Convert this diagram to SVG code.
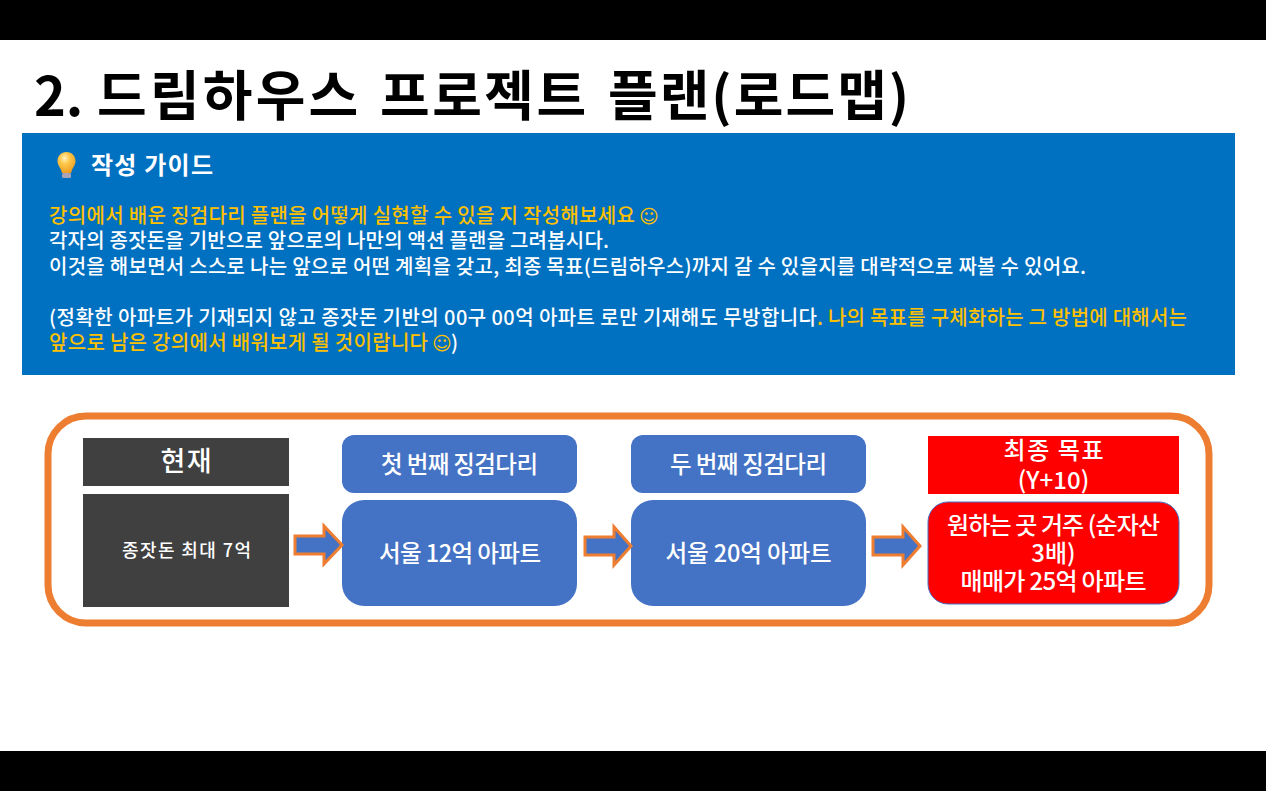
<svg xmlns="http://www.w3.org/2000/svg" width="1266" height="791" viewBox="0 0 1266 791">
<defs>
<radialGradient id="bulbFill" cx="0.4" cy="0.3" r="0.75"><stop offset="0" stop-color="#fff3c4"/><stop offset="0.35" stop-color="#fdc94c"/><stop offset="1" stop-color="#ee9a1d"/></radialGradient>
<style>
text{font-family:"Noto Sans CJK KR","Noto Sans",sans-serif;fill:#fff}
.g{font-size:20px;font-weight:500}
.y{fill:#ffc000}
.s{font-family:"DejaVu Sans",sans-serif;font-size:19px}
.m{text-anchor:middle;font-weight:500}
.arrow{fill:#4472c4;stroke:#ed7d31;stroke-width:3}
</style></defs>
<rect width="1266" height="791" fill="#fff"/>
<rect width="1266" height="40" fill="#000"/>
<rect y="751" width="1266" height="40" fill="#000"/>
<text y="116" font-size="54" font-weight="700" style="fill:#000"><tspan x="34">2.</tspan><tspan x="97" letter-spacing="3.2">드림하우스</tspan><tspan x="380" letter-spacing="2.5">프로젝트</tspan><tspan x="608" letter-spacing="2">플랜(로드맵)</tspan></text>
<g id="guide">
<rect x="22" y="133" width="1213" height="242" fill="#0070c0"/>
<g id="bulb"><path d="M66.500 152c-5.500 0-9 4-9 9 0 4 2.500 6 3.500 9l1 3h9l1-3c1-3 3.500-5 3.500-9 0-5-3.500-9-9-9z" fill="url(#bulbFill)"/><rect x="62" y="173" width="9" height="5" rx="1.500" fill="#a9a3b5"/></g>
<text x="91" y="174" font-size="24" font-weight="700" textLength="122">작성 가이드</text>
<text x="49" y="223" class="g y" textLength="586">강의에서 배운 징검다리 플랜을 어떻게 실현할 수 있을 지 작성해보세요</text>
<text x="639" y="223" class="s y">☺</text>
<text x="49" y="248" class="g" textLength="560">각자의 종잣돈을 기반으로 앞으로의 나만의 액션 플랜을 그려봅시다.</text>
<text x="49" y="274" class="g" textLength="1037">이것을 해보면서 스스로 나는 앞으로 어떤 계획을 갖고, 최종 목표(드림하우스)까지 갈 수 있을지를 대략적으로 짜볼 수 있어요.</text>
<text x="49" y="325" class="g" textLength="768">(정확한 아파트가 기재되지 않고 종잣돈 기반의 00구 00억 아파트 로만 기재해도 무방합니다</text>
<text x="817" y="325" class="g y" textLength="370">. 나의 목표를 구체화하는 그 방법에 대해서는</text>
<text x="49" y="350" class="g y" textLength="379">앞으로 남은 강의에서 배워보게 될 것이랍니다</text>
<text x="432" y="350" class="s y">☺</text>
<text x="451" y="350" class="g">)</text>
</g>
<rect id="frame" x="48" y="416" width="1161" height="207" rx="38" fill="#fff" stroke="#ed7d31" stroke-width="7"/>
<g id="now-head"><rect x="83" y="438" width="206" height="48" fill="#404040"/><text x="186" y="471" font-size="27" class="m" textLength="51">현재</text></g>
<g id="now-body"><rect x="83" y="494" width="206" height="113" fill="#404040"/><text x="186.500" y="557" font-size="18" class="m" textLength="129">종잣돈 최대 7억</text></g>
<g id="step1-head"><rect x="342" y="435" width="235" height="58" rx="12" fill="#4472c4"/><text x="459.500" y="473" font-size="23.500" class="m" textLength="157">첫 번째 징검다리</text></g>
<g id="step1-body"><rect x="342" y="500" width="235" height="106" rx="22" fill="#4472c4"/><text x="460" y="562" font-size="23.500" class="m" textLength="162">서울 12억 아파트</text></g>
<g id="step2-head"><rect x="631" y="435" width="235" height="58" rx="12" fill="#4472c4"/><text x="748.500" y="473" font-size="23.500" class="m" textLength="157">두 번째 징검다리</text></g>
<g id="step2-body"><rect x="631" y="500" width="235" height="106" rx="22" fill="#4472c4"/><text x="748.500" y="562" font-size="23.500" class="m" textLength="166">서울 20억 아파트</text></g>
<g id="goal-head"><rect x="928" y="436" width="251" height="58" fill="#f00"/><text x="1053.500" y="459" font-size="24" class="m" textLength="100">최종 목표</text><text x="1053.500" y="489" font-size="24" class="m">(Y+10)</text></g>
<g id="goal-body"><rect x="928" y="502" width="251" height="102" rx="20" fill="#f00" stroke="#4472c4"/><text x="1053.500" y="534" font-size="24" class="m" textLength="213">원하는 곳 거주 (순자산</text><text x="1053.500" y="562" font-size="24" class="m">3배)</text><text x="1053.500" y="590" font-size="24" class="m" textLength="186">매매가 25억 아파트</text></g>
<g id="connectors">
<path class="arrow" d="M295 536h29v-10l18 19-18 19v-10h-29z"/>
<path class="arrow" d="M585 537h29v-10l17 19-17 19v-10h-29z"/>
<path class="arrow" d="M873 537h30v-10l17 19-17 19v-10h-30z"/>
</g>
</svg>
